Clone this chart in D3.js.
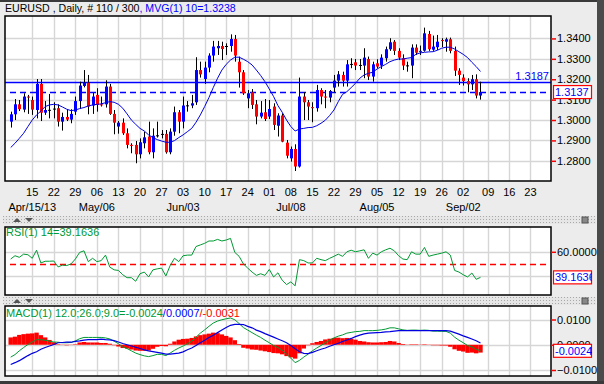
<!DOCTYPE html>
<html>
<meta charset="utf-8">
<title>EURUSD Daily</title>
<style>
body {
  margin: 0;
  background: #ececec;
}
svg {
  display: block;
  font-family: "Liberation Sans", Arial, sans-serif;
  font-size: 11px;
}
</style>
<svg></svg>
<script src="https://d3js.org/d3.v7.min.js"></script>
<script>

// daily bars, Apr 08 2013 .. Sep 06 2013 (110 bars)
var opens = [1.2992,1.3028,1.3077,1.3051,1.3115,1.3098,1.3049,1.3177,1.3036,1.3049,
  1.3055,1.3058,1.2992,1.3015,1.3002,1.3041,1.3093,1.3167,1.3183,1.3071,
  1.3123,1.3077,1.3077,1.3164,1.3030,1.2968,1.2987,1.2935,1.2878,1.2878,
  1.2832,1.2886,1.2919,1.2842,1.2923,1.2930,1.2932,1.2842,1.2943,1.3038,
  1.2992,1.3071,1.3071,1.3087,1.3245,1.3201,1.3257,1.3316,1.3352,1.3363,
  1.3362,1.3363,1.3397,1.3286,1.3234,1.3106,1.3136,1.3077,1.3017,1.3038,
  1.3017,1.3066,1.2972,1.3022,1.2889,1.2812,1.2858,1.2772,1.3115,1.3087,
  1.3063,1.3058,1.3147,1.3115,1.3110,1.3159,1.3193,1.3221,1.3193,1.3273,
  1.3283,1.3268,1.3267,1.3299,1.3213,1.3278,1.3267,1.3303,1.3347,1.3384,
  1.3339,1.3303,1.3267,1.3267,1.3355,1.3335,1.3340,1.3422,1.3345,1.3357,
  1.3392,1.3384,1.3396,1.3339,1.3242,1.3208,1.3191,1.3175,1.3200,1.3120];
var highs = [1.3041,1.3103,1.3098,1.3131,1.3123,1.3115,1.3201,1.3201,1.3093,1.3128,
  1.3087,1.3077,1.3036,1.3053,1.3053,1.3115,1.3188,1.3245,1.3221,1.3136,
  1.3156,1.3115,1.3195,1.3177,1.3049,1.2995,1.3008,1.2959,1.2886,1.2897,
  1.2910,1.2943,1.2992,1.2959,1.2992,1.2951,1.2951,1.2959,1.3066,1.3049,
  1.3115,1.3093,1.3123,1.3308,1.3286,1.3286,1.3327,1.3388,1.3388,1.3384,
  1.3376,1.3420,1.3417,1.3311,1.3245,1.3147,1.3152,1.3098,1.3093,1.3103,
  1.3098,1.3082,1.3033,1.3033,1.2902,1.2870,1.2881,1.3208,1.3136,1.3098,
  1.3087,1.3172,1.3156,1.3147,1.3147,1.3221,1.3240,1.3237,1.3294,1.3303,
  1.3299,1.3299,1.3352,1.3311,1.3286,1.3298,1.3322,1.3360,1.3401,1.3392,
  1.3352,1.3322,1.3286,1.3371,1.3371,1.3365,1.3453,1.3437,1.3414,1.3417,
  1.3401,1.3404,1.3404,1.3360,1.3254,1.3224,1.3205,1.3221,1.3224,1.3188];
var lows = [1.2963,1.3000,1.3044,1.3038,1.3030,1.3025,1.3008,1.2995,1.3025,1.3008,
  1.3008,1.2968,1.2948,1.2995,1.2984,1.3025,1.3054,1.3160,1.3028,1.3030,
  1.3041,1.3066,1.3061,1.3025,1.2930,1.2933,1.2927,1.2861,1.2837,1.2788,
  1.2812,1.2861,1.2832,1.2812,1.2914,1.2910,1.2835,1.2832,1.2923,1.2935,
  1.2959,1.3041,1.3058,1.3074,1.3208,1.3177,1.3234,1.3286,1.3319,1.3294,
  1.3319,1.3335,1.3286,1.3159,1.3123,1.3058,1.3054,1.2979,1.3008,1.2995,
  1.3005,1.2951,1.2919,1.2891,1.2812,1.2796,1.2750,1.2767,1.3000,1.3000,
  1.2989,1.3041,1.3077,1.3058,1.3087,1.3136,1.3164,1.3164,1.3164,1.3254,
  1.3245,1.3245,1.3205,1.3196,1.3188,1.3254,1.3250,1.3286,1.3339,1.3319,
  1.3294,1.3245,1.3237,1.3205,1.3319,1.3319,1.3335,1.3339,1.3339,1.3343,
  1.3358,1.3335,1.3327,1.3216,1.3172,1.3169,1.3136,1.3147,1.3106,1.3100];
var closes = [1.3028,1.3077,1.3053,1.3115,1.3111,1.3051,1.3177,1.3036,1.3049,1.3050,
  1.3056,1.2992,1.3015,1.3002,1.3030,1.3093,1.3169,1.3183,1.3066,1.3115,
  1.3074,1.3075,1.3164,1.3030,1.2987,1.2987,1.2935,1.2878,1.2876,1.2832,
  1.2891,1.2915,1.2842,1.2923,1.2925,1.2932,1.2842,1.2943,1.3038,1.2992,
  1.3071,1.3072,1.3082,1.3245,1.3224,1.3257,1.3316,1.3360,1.3363,1.3348,
  1.3363,1.3397,1.3316,1.3234,1.3131,1.3131,1.3074,1.3017,1.3036,1.3005,
  1.3054,1.2976,1.3022,1.2894,1.2825,1.2858,1.2772,1.3115,1.3087,1.3066,
  1.3061,1.3147,1.3115,1.3111,1.3142,1.3193,1.3224,1.3193,1.3273,1.3275,
  1.3267,1.3270,1.3306,1.3213,1.3273,1.3262,1.3306,1.3347,1.3381,1.3339,
  1.3306,1.3267,1.3268,1.3355,1.3330,1.3339,1.3425,1.3347,1.3360,1.3384,
  1.3388,1.3396,1.3339,1.3242,1.3221,1.3191,1.3175,1.3200,1.3120,1.3137];

// MVG(1) 10 as drawn on the chart
var mvg = [1.2865,1.2886,1.2910,1.2935,1.2968,1.3000,1.3025,1.3044,1.3066,1.3074,
  1.3077,1.3074,1.3064,1.3053,1.3046,1.3049,1.3056,1.3061,1.3069,1.3074,
  1.3077,1.3079,1.3085,1.3090,1.3087,1.3077,1.3058,1.3030,1.3000,1.2979,
  1.2959,1.2946,1.2927,1.2914,1.2904,1.2897,1.2891,1.2891,1.2899,1.2914,
  1.2927,1.2943,1.2959,1.2989,1.3025,1.3066,1.3110,1.3159,1.3205,1.3245,
  1.3273,1.3294,1.3308,1.3308,1.3298,1.3286,1.3270,1.3245,1.3218,1.3188,
  1.3152,1.3115,1.3071,1.3038,1.3000,1.2968,1.2946,1.2956,1.2959,1.2963,
  1.2964,1.2972,1.2984,1.2999,1.3022,1.3049,1.3090,1.3126,1.3139,1.3159,
  1.3180,1.3205,1.3221,1.3229,1.3234,1.3250,1.3262,1.3273,1.3286,1.3294,
  1.3299,1.3299,1.3303,1.3306,1.3322,1.3329,1.3332,1.3334,1.3335,1.3342,
  1.3352,1.3357,1.3357,1.3348,1.3335,1.3322,1.3306,1.3283,1.3262,1.3238];

var rsi = [54.1,56.8,55.5,58.1,57.6,54.7,61.3,50.9,52.3,52.3,
  52.5,47.7,49.1,48.8,50.1,54.1,59.5,60.8,52.0,54.7,
  52.0,52.8,57.3,47.5,45.3,44.8,41.3,38.9,38.9,36.0,
  42.1,43.5,39.5,45.3,46.1,46.7,40.3,48.8,54.7,52.0,
  56.8,57.3,57.3,64.3,65.6,66.9,68.8,68.8,70.1,68.8,
  69.6,70.9,59.5,56.3,50.1,46.7,43.5,40.8,42.1,40.8,
  45.6,39.5,42.9,36.8,33.3,35.5,32.3,53.6,52.8,50.9,
  50.9,54.7,53.6,52.8,54.7,56.3,58.1,56.3,60.0,61.3,
  60.0,60.8,61.6,54.7,58.9,57.3,60.0,61.6,62.9,60.8,
  56.8,54.1,53.6,60.0,58.1,58.1,63.5,56.3,57.3,58.1,
  58.9,60.0,57.3,44.8,43.5,41.3,39.5,42.7,37.6,39.1636];

var macd = [-0.0049,-0.0039,-0.0024,-0.0011,0.0001,0.0011,0.0020,0.0020,0.0018,0.0014,
  0.0011,0.0010,0.0008,0.0008,0.0009,0.0015,0.0024,0.0029,0.0029,0.0029,
  0.0029,0.0029,0.0027,0.0023,0.0014,0.0004,-0.0008,-0.0015,-0.0024,-0.0033,
  -0.0039,-0.0044,-0.0047,-0.0043,-0.0038,-0.0038,-0.0043,-0.0033,-0.0022,-0.0013,
  -0.0005,0.0004,0.0014,0.0030,0.0046,0.0059,0.0073,0.0086,0.0094,0.0099,
  0.0103,0.0106,0.0099,0.0084,0.0068,0.0058,0.0048,0.0038,0.0029,0.0018,
  0.0008,-0.0003,-0.0011,-0.0022,-0.0037,-0.0053,-0.0071,-0.0062,-0.0049,-0.0037,
  -0.0024,-0.0013,-0.0003,0.0008,0.0018,0.0027,0.0034,0.0039,0.0046,0.0049,
  0.0052,0.0053,0.0056,0.0056,0.0056,0.0057,0.0059,0.0062,0.0067,0.0067,
  0.0063,0.0059,0.0057,0.0058,0.0058,0.0057,0.0058,0.0057,0.0054,0.0054,
  0.0053,0.0053,0.0046,0.0030,0.0018,0.0008,-0.0003,-0.0008,-0.0018,-0.0024];
var signal = [-0.0078,-0.0071,-0.0063,-0.0053,-0.0043,-0.0034,-0.0028,-0.0018,-0.0011,-0.0005,
  0.0001,0.0008,0.0009,0.0010,0.0010,0.0013,0.0015,0.0018,0.0020,0.0020,
  0.0020,0.0022,0.0020,0.0019,0.0016,0.0011,0.0005,0.0000,-0.0005,-0.0010,
  -0.0015,-0.0020,-0.0024,-0.0027,-0.0030,-0.0033,-0.0037,-0.0037,-0.0035,-0.0033,
  -0.0028,-0.0020,-0.0013,-0.0003,0.0008,0.0018,0.0029,0.0038,0.0048,0.0058,
  0.0068,0.0077,0.0081,0.0081,0.0080,0.0073,0.0067,0.0058,0.0052,0.0044,
  0.0037,0.0030,0.0023,0.0016,0.0008,-0.0003,-0.0016,-0.0028,-0.0034,-0.0035,
  -0.0030,-0.0024,-0.0018,-0.0013,-0.0006,0.0000,0.0006,0.0013,0.0019,0.0025,
  0.0032,0.0038,0.0043,0.0046,0.0047,0.0048,0.0049,0.0051,0.0052,0.0054,
  0.0056,0.0056,0.0056,0.0056,0.0056,0.0056,0.0056,0.0056,0.0056,0.0056,
  0.0056,0.0056,0.0054,0.0048,0.0042,0.0035,0.0029,0.0023,0.0016,0.0007];
var hist = [0.0029,0.0032,0.0039,0.0042,0.0044,0.0045,0.0048,0.0038,0.0029,0.0019,
  0.0010,0.0002,-0.0001,-0.0002,-0.0001,0.0002,0.0009,0.0011,0.0009,0.0009,
  0.0009,0.0007,0.0007,0.0004,-0.0002,-0.0007,-0.0013,-0.0015,-0.0019,-0.0023,
  -0.0024,-0.0024,-0.0023,-0.0016,-0.0008,-0.0005,-0.0006,0.0004,0.0013,0.0020,
  0.0023,0.0024,0.0027,0.0033,0.0038,0.0041,0.0044,0.0048,0.0046,0.0041,
  0.0035,0.0029,0.0018,0.0003,-0.0012,-0.0015,-0.0019,-0.0020,-0.0023,-0.0026,
  -0.0029,-0.0033,-0.0034,-0.0038,-0.0045,-0.0050,-0.0055,-0.0034,-0.0015,-0.0002,
  0.0006,0.0011,0.0015,0.0021,0.0024,0.0027,0.0028,0.0026,0.0027,0.0024,
  0.0020,0.0015,0.0013,0.0010,0.0009,0.0009,0.0010,0.0011,0.0015,0.0013,
  0.0007,0.0003,0.0001,0.0002,0.0002,0.0001,0.0002,0.0001,-0.0002,-0.0002,
  -0.0003,-0.0003,-0.0008,-0.0018,-0.0024,-0.0027,-0.0032,-0.0031,-0.0034,-0.0031];

// weekly ticks (bar index of each Monday), the last three are past the data
var tickIdx = [5,10,15,20,25,30,35,40,45,50,55,60,65,70,75,80,85,90,95,100,105,110.8,115.7,120.6];
var tickDays = ["15","22","29","06","13","20","27","03","10","17","24","01","08","15","22","29","05","12","19","26","02","09","16","23"];
var monthIdx = [5,20,40,65,85,105];
var monthLabels = ["Apr/15/13","May/06","Jun/03","Jul/08","Aug/05","Sep/02"];

var priceTicks = [1.28,1.29,1.30,1.31,1.32,1.33,1.34];
var rsiTicks = [40,60];
var macdTicks = [-0.01,0,0.01];
var refLevel = 1.3187;

var W = 604, H = 384;
var left = 5, right = 551;
var main = {top: 16, bottom: 181},
    pRsi = {top: 227, bottom: 295},
    pMacd = {top: 306, bottom: 376};

var svg = d3.select("svg").attr("width", W).attr("height", H);

var x = d3.scaleLinear().domain([-1.32, 125.36]).range([left, right]);
var y = d3.scaleLinear().domain([1.2701, 1.3510]).range([main.bottom, main.top]);
var yR = d3.scaleLinear().domain([24.8, 80.2]).range([pRsi.bottom, pRsi.top]);
var yM = d3.scaleLinear().domain([-0.01238, 0.01535]).range([pMacd.bottom, pMacd.top]);

var idx = d3.range(closes.length);
function px(i) { return Math.round(x(i)) + 0.5; }

// window chrome
svg.append("rect").attr("width", W).attr("height", H).attr("fill", "#ececec");
svg.append("rect").attr("width", W).attr("height", 2).attr("fill", "#3a3a3a");
svg.append("rect").attr("x", 597).attr("width", 7).attr("height", H).attr("fill", "#4a4a4a");
svg.append("rect").attr("y", 381).attr("width", W).attr("height", 3).attr("fill", "#3a3a3a");

var defs = svg.append("defs");
var pat = defs.append("pattern").attr("id", "dots")
    .attr("width", 3).attr("height", 3).attr("patternUnits", "userSpaceOnUse");
pat.append("rect").attr("width", 3).attr("height", 3).attr("fill", "#e6e6e6");
pat.append("rect").attr("width", 1).attr("height", 1).attr("fill", "#a8a8a8");

function strip(top) {
  svg.append("rect").attr("x", 3).attr("y", top).attr("width", 593).attr("height", 8)
      .attr("fill", "url(#dots)");
  svg.append("path").attr("d", "M13," + (top + 6) + "L17," + (top + 2) + "L21," + (top + 6) + "Z")
      .attr("fill", "#555");
  svg.append("path").attr("d", "M25," + (top + 2) + "L33," + (top + 2) + "L29," + (top + 6) + "Z")
      .attr("fill", "#555");
  svg.append("rect").attr("x", 582).attr("y", top + 1).attr("width", 6).attr("height", 6)
      .attr("fill", "#888").attr("stroke", "#555");
}
strip(216);
strip(297);

function panel(p, yScale, ticks, name) {
  defs.append("clipPath").attr("id", name)
    .append("rect").attr("x", left).attr("y", p.top).attr("width", right - left).attr("height", p.bottom - p.top);
  svg.append("rect").attr("x", left).attr("y", p.top)
      .attr("width", right - left).attr("height", p.bottom - p.top).attr("fill", "#fff");
  var g = svg.append("g").attr("clip-path", "url(#" + name + ")");
  g.selectAll("line.v").data(tickIdx).enter().append("line")
      .attr("x1", function(d) { return px(d); }).attr("x2", function(d) { return px(d); })
      .attr("y1", p.top).attr("y2", p.bottom)
      .attr("stroke", "#d6d6d6").attr("stroke-width", 1.4);
  g.selectAll("line.h").data(ticks).enter().append("line")
      .attr("x1", left).attr("x2", right)
      .attr("y1", function(d) { return Math.round(yScale(d)) + 0.5; })
      .attr("y2", function(d) { return Math.round(yScale(d)) + 0.5; })
      .attr("stroke", "#d6d6d6").attr("stroke-width", 1.4);
  return g;
}

function frame(p) {
  svg.append("rect").attr("x", left).attr("y", p.top)
      .attr("width", right - left).attr("height", p.bottom - p.top)
      .attr("fill", "none").attr("stroke", "#000").attr("stroke-width", 1.5);
}

function axisRight(yScale, ticks, fmt) {
  var a = svg.append("g").attr("transform", "translate(" + right + ",0)")
      .call(d3.axisRight(yScale).tickValues(ticks).tickFormat(fmt).tickSize(5).tickPadding(1));
  a.select(".domain").remove();
  a.selectAll(".tick line").attr("stroke", "#f00").attr("stroke-width", 1.5);
  a.selectAll(".tick text").attr("fill", "#000").attr("font-size", "11px")
      .attr("font-family", "Liberation Sans, Arial, sans-serif");
}

function valueBox(yPos, label, color) {
  var id = "box" + Math.round(yPos);
  defs.append("clipPath").attr("id", id)
    .append("rect").attr("x", 553).attr("y", yPos - 7).attr("width", 39).attr("height", 14);
  svg.append("rect").attr("x", 553.5).attr("y", yPos - 6.5).attr("width", 38).attr("height", 13)
      .attr("fill", "#fff").attr("stroke", "#f00").attr("stroke-width", 1.2);
  svg.append("text").attr("clip-path", "url(#" + id + ")")
      .attr("x", 555).attr("y", yPos + 4).attr("fill", color).text(label);
}

// ---------- price panel ----------
var gMain = panel(main, y, priceTicks, "clipMain");

gMain.append("line").attr("x1", left).attr("x2", right)
    .attr("y1", Math.round(y(refLevel)) + 0.5).attr("y2", Math.round(y(refLevel)) + 0.5)
    .attr("stroke", "#00f").attr("stroke-width", 1.5);
gMain.append("line").attr("x1", 10).attr("x2", 549)
    .attr("y1", Math.round(y(closes[109])) + 0.5).attr("y2", Math.round(y(closes[109])) + 0.5)
    .attr("stroke", "#00f").attr("stroke-width", 1.5).attr("stroke-dasharray", "6,4");

gMain.selectAll("line.wick").data(idx).enter().append("line")
    .attr("x1", function(i) { return px(i); }).attr("x2", function(i) { return px(i); })
    .attr("y1", function(i) { return y(highs[i]); })
    .attr("y2", function(i) { return y(lows[i]); })
    .attr("stroke", "#000").attr("stroke-width", 1);

gMain.selectAll("rect.body").data(idx).enter().append("rect")
    .attr("x", function(i) { return Math.round(x(i)) - 1; })
    .attr("width", 3)
    .attr("y", function(i) { return Math.min(y(opens[i]), y(closes[i])); })
    .attr("height", function(i) { return Math.max(1, Math.abs(y(opens[i]) - y(closes[i]))); })
    .attr("fill", function(i) {
      var diff = closes[i] - opens[i];
      if (Math.abs(diff) < 0.0003) return diff < 0 ? "#f00" : "#000";
      return diff > 0 ? "#00f" : "#f00";
    });

gMain.append("path").datum(idx)
    .attr("fill", "none").attr("stroke", "#0000e0").attr("stroke-width", 1)
    .attr("d", d3.line().x(function(i) { return x(i); }).y(function(i) { return y(mvg[i]); }));

frame(main);
axisRight(y, priceTicks, d3.format(".4f"));

svg.append("text").attr("x", 549).attr("y", y(refLevel) - 2)
    .attr("text-anchor", "end").attr("fill", "#00f").text(refLevel.toFixed(4));
valueBox(y(closes[109]), closes[109].toFixed(4), "#00f");

// title
var title = svg.append("text").attr("x", 5).attr("y", 12).attr("font-size", "10.6px");
title.append("tspan").attr("fill", "#000").text("EURUSD , Daily, # 110 / 300");
title.append("tspan").attr("fill", "#00f").text(", MVG(1) 10=" + mvg[109].toFixed(4));

// date labels
svg.selectAll("text.day").data(tickIdx).enter().append("text")
    .attr("x", function(d) { return x(d); }).attr("y", 196)
    .attr("text-anchor", "middle").attr("fill", "#000")
    .text(function(d, k) { return tickDays[k]; });
svg.selectAll("text.month").data(monthIdx).enter().append("text")
    .attr("x", function(d) { return x(d); }).attr("y", 211)
    .attr("text-anchor", "middle").attr("fill", "#000")
    .text(function(d, k) { return monthLabels[k]; });

// ---------- RSI panel ----------
var gRsi = panel(pRsi, yR, rsiTicks, "clipRsi");
gRsi.append("line").attr("x1", 10).attr("x2", 548)
    .attr("y1", Math.round(yR(50)) + 0.5).attr("y2", Math.round(yR(50)) + 0.5)
    .attr("stroke", "#f00").attr("stroke-width", 1.5).attr("stroke-dasharray", "6,4");
gRsi.append("path").datum(idx)
    .attr("fill", "none").attr("stroke", "#009933").attr("stroke-width", 1)
    .attr("d", d3.line().x(function(i) { return x(i); }).y(function(i) { return yR(rsi[i]); }));
frame(pRsi);
axisRight(yR, [60], d3.format(".4f"));
svg.append("text").attr("x", 6).attr("y", 236).attr("fill", "#009933")
    .text("RSI(1) 14=" + rsi[109].toFixed(4));
valueBox(yR(rsi[109]), rsi[109].toFixed(4), "#00f");

// ---------- MACD panel ----------
var gMacd = panel(pMacd, yM, macdTicks, "clipMacd");
gMacd.selectAll("rect.hist").data(idx).enter().append("rect")
    .attr("x", function(i) { return x(i) - 2.2; })
    .attr("width", 4.4)
    .attr("y", function(i) { return Math.min(yM(0), yM(hist[i])); })
    .attr("height", function(i) { return Math.abs(yM(hist[i]) - yM(0)); })
    .attr("fill", "#f00");
gMacd.append("path").datum(idx)
    .attr("fill", "none").attr("stroke", "#009933").attr("stroke-width", 1)
    .attr("d", d3.line().x(function(i) { return x(i); }).y(function(i) { return yM(macd[i]); }));
gMacd.append("path").datum(idx)
    .attr("fill", "none").attr("stroke", "#0000e0").attr("stroke-width", 1.2)
    .attr("d", d3.line().x(function(i) { return x(i); }).y(function(i) { return yM(signal[i]); }));
frame(pMacd);
axisRight(yM, macdTicks, d3.format(".4f"));
var mt = svg.append("text").attr("x", 6).attr("y", 317);
mt.append("tspan").attr("fill", "#009933").text("MACD(1) 12.0;26.0;9.0=" + macd[109].toFixed(4));
mt.append("tspan").attr("fill", "#00f").text("/" + signal[109].toFixed(4));
mt.append("tspan").attr("fill", "#f00").text("/" + hist[109].toFixed(4));
valueBox(yM(macd[109]), macd[109].toFixed(4), "#00f");

</script>
</html>
